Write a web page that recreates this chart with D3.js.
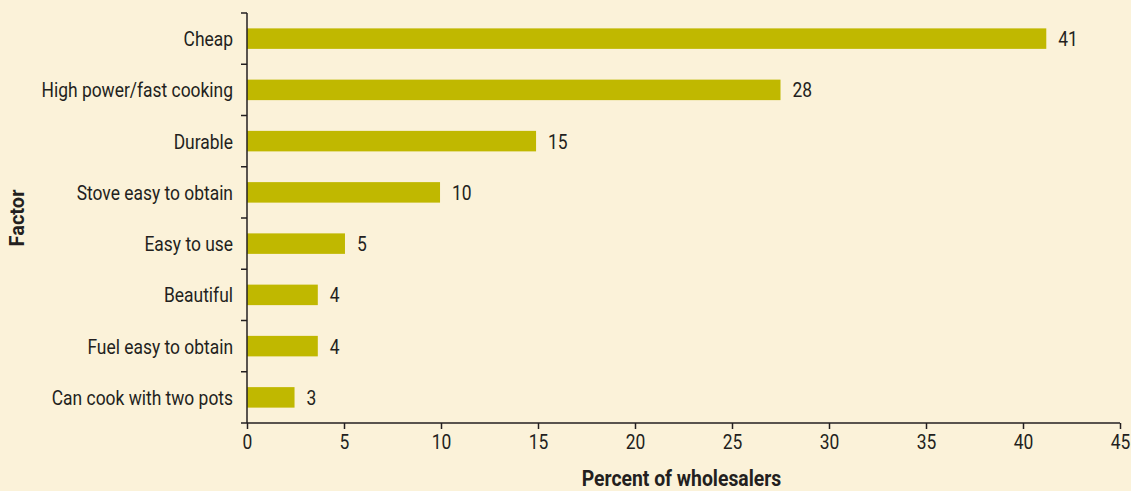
<!DOCTYPE html>
<html>
<head>
<meta charset="utf-8">
<script src="https://cdn.jsdelivr.net/npm/d3@7"></script>
<style>
  body { margin: 0; background: #fbf2d9; }
  svg { display: block; }
  text { font-family: Roboto, "DejaVu Sans Condensed", sans-serif; fill: #231f20; }
</style>
</head>
<body>
<div id="container"></div>
<script>
// factors, bar lengths as drawn and the labels printed next to them
const factors = ["Cheap", "High power/fast cooking", "Durable", "Stove easy to obtain",
                 "Easy to use", "Beautiful", "Fuel easy to obtain", "Can cook with two pots"];
const percents = [41.2, 27.5, 14.9, 9.95, 5.05, 3.65, 3.65, 2.45];
const valueLabels = ["41", "28", "15", "10", "5", "4", "4", "3"];
const xTicks = [0, 5, 10, 15, 20, 25, 30, 35, 40, 45];

const w = 1131;
const h = 491;
const padL = 247, padR = 1120, padT = 13, padB = 423;
const fs = 21, squeeze = 0.83;   // condensed look: roboto squeezed sideways

const data = factors.map((f, i) => ({f: f, v: percents[i], lab: valueLabels[i]}));

const x = d3.scaleLinear().domain([0, 45]).range([padL, padR]);
const y = d3.scaleBand().domain(factors).range([padT, padB]).paddingInner(0.6).paddingOuter(0.3);
const yb = d3.scaleLinear().domain([0, factors.length]).range([padT, padB]);

const svg = d3.select("#container").append("svg")
  .attr("width", w).attr("height", h);

svg.append("rect").attr("width", w).attr("height", h).attr("fill", "#fbf2d9");

// bars
svg.selectAll("rect.bar")
  .data(data)
  .enter()
  .append("rect")
  .attr("class", "bar")
  .attr("x", x(0))
  .attr("y", d => y(d.f))
  .attr("width", d => x(d.v) - x(0))
  .attr("height", y.bandwidth())
  .attr("fill", "#c0b800");

svg.selectAll("text.val")
  .data(data)
  .enter()
  .append("text")
  .attr("class", "val")
  .attr("transform", d => "translate(" + (x(d.v) + 12) + "," + (y(d.f) + y.bandwidth() / 2) + ") scale(" + squeeze + ",1)")
  .attr("dy", "0.36em")
  .attr("font-size", fs)
  .text(d => d.lab);

// y axis: ticks at the band boundaries
const yAxisG = svg.append("g");
yAxisG.append("line")
  .attr("x1", padL).attr("x2", padL)
  .attr("y1", yb(0)).attr("y2", yb(factors.length))
  .attr("stroke", "#231f20").attr("stroke-width", 1.5);
yAxisG.selectAll("line.tk")
  .data(d3.range(factors.length + 1))
  .enter()
  .append("line")
  .attr("class", "tk")
  .attr("x1", padL - 6).attr("x2", padL)
  .attr("y1", d => yb(d)).attr("y2", d => yb(d))
  .attr("stroke", "#231f20").attr("stroke-width", 1.5);
yAxisG.selectAll("text")
  .data(factors)
  .enter()
  .append("text")
  .attr("transform", d => "translate(" + (padL - 14) + "," + (y(d) + y.bandwidth() / 2) + ") scale(" + squeeze + ",1)")
  .attr("dy", "0.36em")
  .attr("text-anchor", "end")
  .attr("font-size", fs)
  .text(d => d);

// x axis
const xAxis = d3.axisBottom(x).tickValues(xTicks).tickSize(6).tickPadding(5);
const xg = svg.append("g")
  .attr("transform", "translate(0," + padB + ")")
  .call(xAxis);
xg.select(".domain").attr("stroke", "#231f20").attr("stroke-width", 1.5)
  .attr("d", "M" + padL + ",0H" + padR);
xg.selectAll(".tick line").attr("stroke", "#231f20").attr("stroke-width", 1.5);
xg.selectAll(".tick text").attr("font-size", fs)
  .attr("transform", "scale(" + squeeze + ",1)")
  .style("font-family", "Roboto, sans-serif")
  .attr("fill", "#231f20");

svg.append("text")
  .attr("transform", "translate(" + ((padL + padR) / 2 - 2) + ",486) scale(0.88,1)")
  .attr("text-anchor", "middle")
  .attr("font-size", 22)
  .attr("font-weight", "bold")
  .text("Percent of wholesalers");

svg.append("text")
  .attr("transform", "translate(24,218) rotate(-90)")
  .attr("text-anchor", "middle")
  .attr("font-size", 20)
  .attr("font-weight", "bold")
  .text("Factor");
</script>
</body>
</html>
